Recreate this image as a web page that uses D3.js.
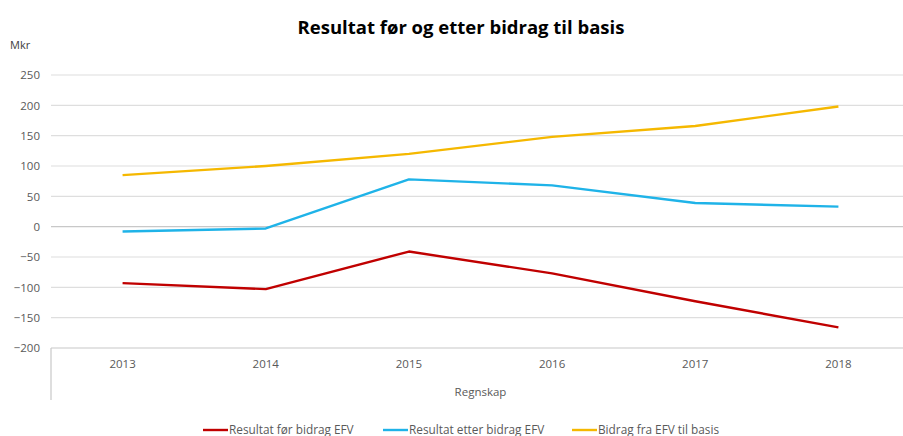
<!DOCTYPE html>
<html>
<head>
<meta charset="utf-8">
<script src="https://cdn.jsdelivr.net/npm/d3@7"></script>
<style>
  body { margin: 0; background: #fff; }
  text { font-family: "Open Sans", "Liberation Sans", sans-serif; }
</style>
</head>
<body>
<script>
var years = ["2013", "2014", "2015", "2016", "2017", "2018"];
var seriesNames = ["Resultat før bidrag EFV", "Resultat etter bidrag EFV", "Bidrag fra EFV til basis"];
var seriesColors = ["#c00000", "#1fb3e8", "#f5b800"];
var resultatFor = [-93, -103, -41, -77, -123, -166];
var resultatEtter = [-8, -3, 78, 68, 39, 33];
var bidragEFV = [85, 100, 120, 148, 166, 198];
var yTicks = [250, 200, 150, 100, 50, 0, -50, -100, -150, -200];

var width = 903, height = 436;
var plotLeft = 51, plotRight = 910, plotTop = 75, plotBottom = 348;

var svg = d3.select("body").append("svg")
  .attr("width", width)
  .attr("height", height);

var x = d3.scaleBand().domain(years).range([plotLeft, plotRight]);
var y = d3.scaleLinear().domain([-200, 250]).range([plotBottom, plotTop]);

// grid lines
svg.append("g").selectAll("line")
  .data(yTicks)
  .enter().append("line")
  .attr("x1", plotLeft).attr("x2", width)
  .attr("y1", function(d) { return y(d); })
  .attr("y2", function(d) { return y(d); })
  .attr("stroke", function(d) { return d == 0 || d == -200 ? "#c8c8c8" : "#dedede"; })
  .attr("stroke-width", 1.2);

// y axis labels
var yAxis = d3.axisLeft(y).tickValues(yTicks).tickSize(0).tickPadding(0);
var gy = svg.append("g").attr("transform", "translate(40,0)").call(yAxis);
gy.select(".domain").remove();
gy.selectAll("text").attr("fill", "#595959").style("font-size", "11.5px");

// x axis labels
var xAxis = d3.axisBottom(x).tickSize(0).tickPadding(0);
var gx = svg.append("g").attr("transform", "translate(0,360)").call(xAxis);
gx.select(".domain").remove();
gx.selectAll("text").attr("fill", "#595959").style("font-size", "11.5px");

// left frame line of category axis
svg.append("line")
  .attr("x1", plotLeft).attr("x2", plotLeft)
  .attr("y1", plotBottom).attr("y2", 400)
  .attr("stroke", "#c8c8c8").attr("stroke-width", 1.2);

svg.append("text")
  .attr("x", (plotLeft + plotRight) / 2).attr("y", 396)
  .attr("text-anchor", "middle")
  .attr("fill", "#595959").style("font-size", "11.5px")
  .text("Regnskap");

svg.append("text")
  .attr("x", 10).attr("y", 49)
  .attr("fill", "#404040").style("font-size", "11px")
  .text("Mkr");

svg.append("text")
  .attr("x", 461).attr("y", 34)
  .attr("text-anchor", "middle")
  .attr("fill", "#000").style("font-size", "18.5px").style("font-weight", "bold")
  .text("Resultat før og etter bidrag til basis");

// lines
var allSeries = [resultatFor, resultatEtter, bidragEFV];
var line = d3.line()
  .x(function(d, i) { return x(years[i]) + x.bandwidth() / 2; })
  .y(function(d) { return y(d); });

svg.selectAll(".series")
  .data(allSeries)
  .enter().append("path")
  .attr("class", "series")
  .attr("d", line)
  .attr("fill", "none")
  .attr("stroke", function(d, i) { return seriesColors[i]; })
  .attr("stroke-width", 2.4)
  .attr("stroke-linejoin", "round");

// legend
var legendX = [203, 383, 572];
var legend = svg.selectAll(".legend")
  .data(seriesNames)
  .enter().append("g")
  .attr("class", "legend")
  .attr("transform", function(d, i) { return "translate(" + legendX[i] + ",430)"; });

legend.append("line")
  .attr("x1", 0).attr("x2", 25)
  .attr("stroke", function(d, i) { return seriesColors[i]; })
  .attr("stroke-width", 2.4);

legend.append("text")
  .attr("x", 26).attr("y", 4)
  .attr("fill", "#595959").style("font-size", "11.8px")
  .text(function(d) { return d; });
</script>
</body>
</html>
